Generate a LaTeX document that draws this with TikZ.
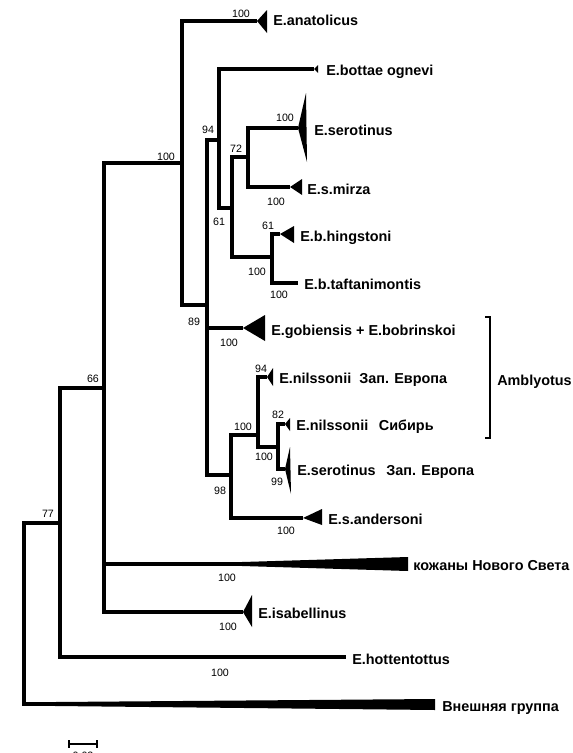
\documentclass[tikz,border=0pt]{standalone}
\usepackage{fontspec}
\setmainfont{Liberation Sans}
\begin{document}
\begin{tikzpicture}[x=0.75pt,y=-0.75pt,
  br/.style={line width=3pt, line join=miter},
  lab/.style={anchor=base west, inner sep=0pt, font=\fontsize{10.8}{13}\selectfont\bfseries},
  bs/.style={anchor=center, inner sep=0pt, font=\fontsize{8}{9.6}\selectfont},
  clade/.style={fill=black}]
\useasboundingbox[fill=white] (0,0) rectangle (572,753);

% internal nodes (x of vertical, y where parent attaches)
\coordinate (nR) at (24,613);
\coordinate (nA) at (60,523);
\coordinate (nB) at (104,388);
\coordinate (nC) at (182,163);
\coordinate (nD) at (207,305);
\coordinate (nE) at (219,140);
\coordinate (nF) at (232,208);
\coordinate (nG) at (248,157);
\coordinate (nH) at (272,257);
\coordinate (nJ) at (231,475);
\coordinate (nK) at (258,435);
\coordinate (nL) at (278,447);

% tips (end of branch / apex of clade)
\coordinate (t-anat) at (257,21);
\coordinate (t-bott) at (314,69);
\coordinate (t-ser) at (298,128);
\coordinate (t-mirza) at (290,187);
\coordinate (t-hing) at (280,234);
\coordinate (t-taft) at (298,283);
\coordinate (t-gobi) at (243,328);
\coordinate (t-nilW) at (267,377);
\coordinate (t-nilS) at (285,424);
\coordinate (t-serW) at (285,469);
\coordinate (t-and) at (303,518);
\coordinate (t-koz) at (242,564);
\coordinate (t-isab) at (243,612);
\coordinate (t-hott) at (346,657);
\coordinate (t-out) at (55,704);

% branches
\draw[br] (nA) -| (nR) |- (t-out);
\draw[br] (nB) -| (nA) |- (t-hott);
\draw[br] (nC) -| (nB) |- (t-isab);
\draw[br] (nB |- t-koz) -- (t-koz);
\draw[br] (t-anat) -| (nC) |- (nD);
\draw[br] (nE) -| (nD) |- (nJ);
\draw[br] (nD |- t-gobi) -- (t-gobi);
\draw[br] (t-bott) -| (nE) |- (nF);
\draw[br] (nG) -| (nF) |- (nH);
\draw[br] (t-ser) -| (nG) |- (t-mirza);
\draw[br] (t-hing) -| (nH) |- (t-taft);
\draw[br] (nK) -| (nJ) |- (t-and);
\draw[br] (t-nilW) -| (nK) |- (nL);
\draw[br] (t-nilS) -| (nL) |- (t-serW);

% collapsed clades
\fill[clade] (t-anat) -- ++(10,-11) -- ++(0,23) -- cycle;
\fill[clade] (t-bott) -- ++(4,-4) -- ++(0,8) -- cycle;
\fill[clade] (t-ser) -- ++(8,-35) -- ++(1,69) -- cycle;
\fill[clade] (t-mirza) -- ++(12,-8) -- ++(0,16) -- cycle;
\fill[clade] (t-hing) -- ++(14,-8) -- ++(0,17) -- cycle;
\fill[clade] (t-gobi) -- ++(22,-13) -- ++(0,26) -- cycle;
\fill[clade] (t-nilW) -- ++(6,-9) -- ++(0,18) -- cycle;
\fill[clade] (t-nilS) -- ++(5,-6) -- ++(0,13) -- cycle;
\fill[clade] (t-serW) -- ++(5,-22) -- ++(1,47) -- cycle;
\fill[clade] (t-and) -- ++(19,-9) -- ++(0,16) -- cycle;
\fill[clade] (t-isab) -- ++(9,-17) -- ++(0,32) -- cycle;
\fill[clade] (t-koz) ++(0,-2) -- ++(166,-5) -- ++(0,14) -- ++(-166,-5) -- cycle;
\fill[clade] (t-out) ++(0,-2) -- ++(380,-3) -- ++(0,11) -- ++(-380,-4) -- cycle;

% taxon labels
\node[lab] (l-anat) at (273,26) {E.anatolicus};
\node[lab] (l-bott) at (326,75) {E.bottae ognevi};
\node[lab] (l-ser) at (314,135) {E.serotinus};
\node[lab] (l-mirza) at (307,194) {E.s.mirza};
\node[lab] (l-hing) at (300,241) {E.b.hingstoni};
\node[lab] (l-taft) at (304,289) {E.b.taftanimontis};
\node[lab] (l-gobi) at (271,335) {E.gobiensis + E.bobrinskoi};
\node[lab] (l-nilW) at (279,383) {E.nilssonii\hspace{6pt}Зап. Европа};
\node[lab] (l-nilS) at (296,430) {E.nilssonii\hspace{8pt}Сибирь};
\node[lab] (l-serW) at (297,475) {E.serotinus\hspace{8pt}Зап. Европа};
\node[lab] (l-and) at (328,524) {E.s.andersoni};
\node[lab] (l-koz) at (413,570) {кожаны Нового Света};
\node[lab] (l-isab) at (258,618) {E.isabellinus};
\node[lab] (l-hott) at (352,664) {E.hottentottus};
\node[lab] (l-out) at (442,711) {Внешняя группа};
\node[lab] (l-ambl) at (497,385) {Amblyotus};

% bootstrap values
\node[bs] (b1) at (241,14) {100};
\node[bs] (b2) at (166,157) {100};
\node[bs] (b3) at (208,130) {94};
\node[bs] (b4) at (236,149) {72};
\node[bs] (b5) at (285,118) {100};
\node[bs] (b6) at (276,202) {100};
\node[bs] (b7) at (219,222) {61};
\node[bs] (b8) at (268,226) {61};
\node[bs] (b9) at (257,272) {100};
\node[bs] (b10) at (279,295) {100};
\node[bs] (b11) at (194,322) {89};
\node[bs] (b12) at (229,343) {100};
\node[bs] (b13) at (261,369) {94};
\node[bs] (b14) at (278,415) {82};
\node[bs] (b15) at (243,427) {100};
\node[bs] (b16) at (264,457) {100};
\node[bs] (b17) at (277,482) {99};
\node[bs] (b18) at (220,491) {98};
\node[bs] (b19) at (286,531) {100};
\node[bs] (b20) at (227,578) {100};
\node[bs] (b21) at (228,627) {100};
\node[bs] (b22) at (220,673) {100};
\node[bs] (b23) at (93,379) {66};
\node[bs] (b24) at (48,514) {77};

% bracket
\coordinate (br-top) at (485,317);
\coordinate (br-bot) at (485,438);
\draw[line width=1.5pt] (br-top) -- ++(5,0) |- (br-bot);

% scale bar
\coordinate (sc-l) at (69,744);
\coordinate (sc-r) at (97,744);
\draw[line width=1.5pt] (sc-l) -- (sc-r);
\draw[line width=1pt] (sc-l) ++(0,-4) -- ++(0,8);
\draw[line width=1pt] (sc-r) ++(0,-4) -- ++(0,8);
\node[bs] (sc-t) at (83,756) {0.02};
\end{tikzpicture}
\end{document}
